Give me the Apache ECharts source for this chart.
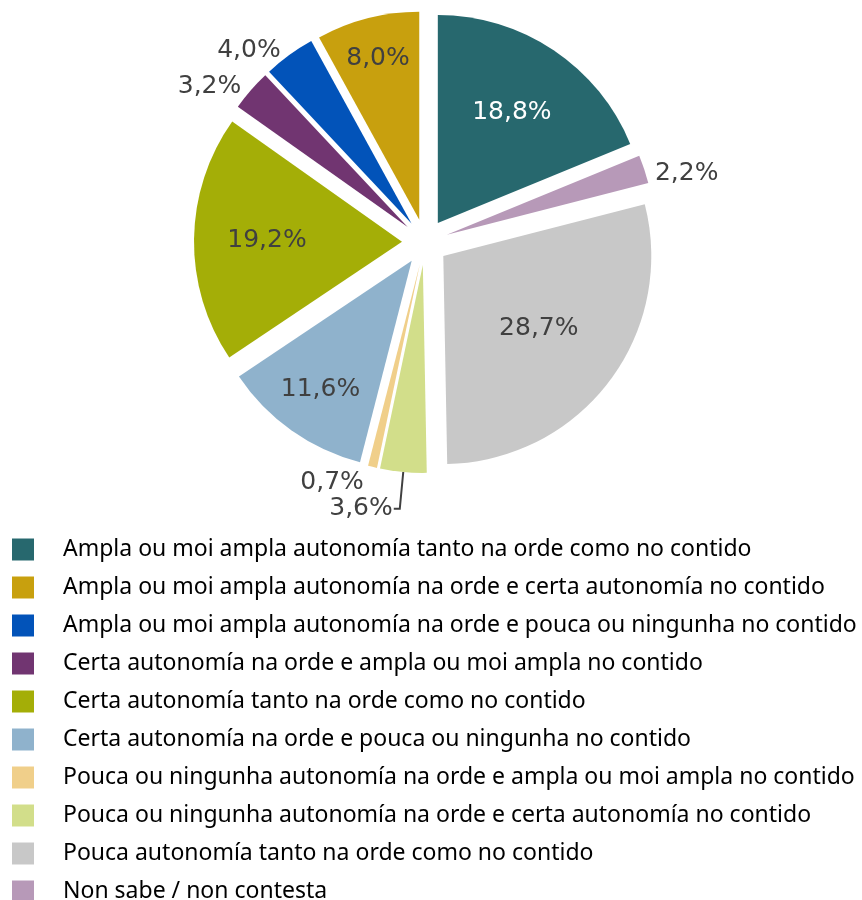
<!DOCTYPE html>
<html>
<head>
<meta charset="utf-8">
<script src="https://cdn.jsdelivr.net/npm/echarts@6/dist/echarts.min.js"></script>
<style>
  html, body { margin: 0; padding: 0; background: #fff; }
  #chart { width: 862px; height: 900px; }
</style>
</head>
<body>
<div id="chart"></div>
<script>
  const categories = [
    'Ampla ou moi ampla autonomía tanto na orde como no contido',
    'Ampla ou moi ampla autonomía na orde e certa autonomía no contido',
    'Ampla ou moi ampla autonomía na orde e pouca ou ningunha no contido',
    'Certa autonomía na orde e ampla ou moi ampla no contido',
    'Certa autonomía tanto na orde como no contido',
    'Certa autonomía na orde e pouca ou ningunha no contido',
    'Pouca ou ningunha autonomía na orde e ampla ou moi ampla no contido',
    'Pouca ou ningunha autonomía na orde e certa autonomía no contido',
    'Pouca autonomía tanto na orde como no contido',
    'Non sabe / non contesta'
  ];
  const values = [18.8, 8.0, 4.0, 3.2, 19.2, 11.6, 0.7, 3.6, 28.7, 2.2];
  const colors = ['#27686e', '#c8a00e', '#0253b9', '#713571', '#a4ae07',
                  '#8fb2cc', '#f0cf8a', '#d2de8a', '#c8c8c8', '#b799b8'];

  // which slices get their label inside, and how far to push it out from mid radius
  const insideLabel = [true, true, false, false, true, true, false, false, true, false];
  const labelPush = [26, 59, 0, 0, 28, 51, 0, 0, 13, 0];

  const total = values.reduce((a, b) => a + b, 0);
  const startAngle = 90 - values[0] / total * 360;

  const chart = echarts.init(document.getElementById('chart'));

  // screen shift for each label
  const shifts = [];
  let cum = 0;
  const seriesData = values.map((v, i) => {
    const mid = (startAngle + (cum + v / 2) / total * 360) * Math.PI / 180;
    cum += v;
    shifts.push([labelPush[i] * Math.cos(mid), -labelPush[i] * Math.sin(mid)]);
    const item = {
      name: categories[i],
      value: v,
      selected: true,
      itemStyle: { color: colors[i] }
    };
    if (insideLabel[i]) {
      item.label = {
        position: 'inside',
        color: i === 0 ? '#ffffff' : '#404040'
      };
      item.labelLine = { show: false };
    } else if (i === 7) {
      // 3,6% has a leader line
      item.labelLine = {
        show: true, length: 37, length2: 6,
        lineStyle: { color: '#404040', width: 2 }
      };
      item.label = { distanceToLabelLine: 1 };
    } else if (i === 6) {
      item.labelLine = { show: false, length: 16, length2: 0 };
    } else {
      item.labelLine = { show: false, length: 6, length2: 0 };
    }
    return item;
  });
  shifts[9] = [0, 6];

  const option = {
    animation: false,
    legend: {
      orient: 'vertical',
      left: 7,
      top: 533,
      height: 380,
      itemWidth: 22,
      itemHeight: 22,
      itemGap: 15,
      icon: 'rect',
      selectedMode: false,
      textStyle: {
        fontFamily: 'Noto Sans',
        fontSize: 23,
        color: '#000',
        padding: [0, 0, 0, 24]
      },
      data: categories
    },
    series: [{
      type: 'pie',
      center: [425, 242],
      radius: 208,
      startAngle: startAngle,
      clockwise: false,
      selectedMode: 'multiple',
      selectedOffset: 23,
      avoidLabelOverlap: false,
      emphasis: { scale: false },
      label: {
        show: true,
        position: 'outside',
        fontFamily: 'DejaVu Sans',
        fontSize: 25,
        lineHeight: 26,
        color: '#404040',
        formatter: p => p.value.toFixed(1).replace('.', ',') + '%'
      },
      labelLayout: p => ({
        hideOverlap: false,
        dx: shifts[p.dataIndex][0],
        dy: shifts[p.dataIndex][1]
      }),
      data: seriesData
    }]
  };

  chart.setOption(option);
</script>
</body>
</html>
